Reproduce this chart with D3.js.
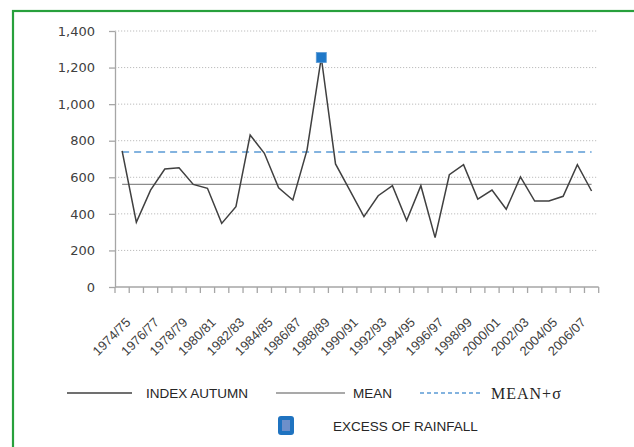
<!DOCTYPE html>
<html>
<head>
<meta charset="utf-8">
<script src="https://cdn.jsdelivr.net/npm/d3@7"></script>
<style>
  body { margin: 0; background: #fff; }
  svg { display: block; }
</style>
</head>
<body>
<div id="chart"></div>
<script>
/***********************************************/
//                 CHART DATA                  //
/***********************************************/

const seasons = ["1974/75","1975/76","1976/77","1977/78","1978/79","1979/80","1980/81","1981/82",
  "1982/83","1983/84","1984/85","1985/86","1986/87","1987/88","1988/89","1989/90","1990/91",
  "1991/92","1992/93","1993/94","1994/95","1995/96","1996/97","1997/98","1998/99","1999/00",
  "2000/01","2001/02","2002/03","2003/04","2004/05","2005/06","2006/07","2007/08"];

const indexAutumn = [744, 354, 530, 645, 652, 561, 540, 348, 439, 831, 731, 543, 476, 750,
  1255, 673, 530, 385, 499, 554, 363, 554, 270, 614, 669, 481, 530, 425, 602, 470, 470, 496, 669, 525];

const meanValue = 561;
const meanPlusSigma = 738;

// the single point flagged as excess of rainfall
const excessSeasons = ["1988/89"];
const excessValues = [1255];

const yTicks = [0, 200, 400, 600, 800, 1000, 1200, 1400];

const legendItems = ["INDEX AUTUMN", "MEAN", "MEAN+\u03c3", "EXCESS OF RAINFALL"];

/***********************************************/
//                   LAYOUT                    //
/***********************************************/

const width = 634,
    height = 447;

const plotLeft = 115, plotRight = 598.7, plotTop = 31, plotBottom = 287;

const svg = d3.select("#chart")
  .append("svg")
    .attr("width", width)
    .attr("height", height);

svg.append("rect")
    .attr("width", width)
    .attr("height", height)
    .attr("fill", "#fff");

// green frame, runs off the right and bottom edges
svg.append("rect")
    .attr("x", 13)
    .attr("y", 11)
    .attr("width", 700)
    .attr("height", 500)
    .attr("fill", "none")
    .attr("stroke", "#28a03c")
    .attr("stroke-width", 2.2);

const x = d3.scaleBand()
    .domain(seasons)
    .range([plotLeft, plotRight]);

const y = d3.scaleLinear()
    .domain([0, 1400])
    .range([plotBottom, plotTop]);

const cx = d => x(d) + x.bandwidth() / 2;

// gridlines
svg.append("g")
  .selectAll("line")
  .data(yTicks.filter(d => d > 0))
  .join("line")
    .attr("x1", plotLeft)
    .attr("x2", plotRight - 1)
    .attr("y1", d => y(d))
    .attr("y2", d => y(d))
    .attr("stroke", "#bdbdbd")
    .attr("stroke-width", 1)
    .attr("stroke-dasharray", "1.2,1.8");

// y axis
const yAxis = svg.append("g")
    .attr("transform", `translate(${plotLeft},0)`)
    .call(d3.axisLeft(y)
      .tickValues(yTicks)
      .tickFormat(d3.format(","))
      .tickSize(6)
      .tickSizeOuter(0)
      .tickPadding(14));

yAxis.select(".domain").attr("stroke", "#a6a6a6").attr("stroke-width", 1.3);
yAxis.selectAll(".tick line").attr("stroke", "#a6a6a6").attr("stroke-width", 1.3);
yAxis.selectAll(".tick text")
    .attr("fill", "#404040")
    .style("font-family", "DejaVu Sans, Verdana, sans-serif")
    .style("font-size", "13px");

// x axis: baseline plus ticks on the band edges
const xAxis = svg.append("g");

xAxis.append("line")
    .attr("x1", plotLeft)
    .attr("x2", plotRight)
    .attr("y1", plotBottom)
    .attr("y2", plotBottom)
    .attr("stroke", "#a6a6a6")
    .attr("stroke-width", 1.3);

xAxis.selectAll(".xtick")
  .data(seasons.concat(["end"]))
  .join("line")
    .attr("class", "xtick")
    .attr("x1", d => d === "end" ? plotRight : x(d))
    .attr("x2", d => d === "end" ? plotRight : x(d))
    .attr("y1", plotBottom)
    .attr("y2", plotBottom + 6)
    .attr("stroke", "#a6a6a6")
    .attr("stroke-width", 1.3);

xAxis.selectAll(".xlabel")
  .data(seasons.filter((d, i) => i % 2 === 0))
  .join("text")
    .attr("class", "xlabel")
    .attr("transform", d => `translate(${cx(d) + 6},${plotBottom + 33}) rotate(-45)`)
    .attr("text-anchor", "end")
    .attr("dy", "0.35em")
    .attr("fill", "#404040")
    .style("font-family", "Liberation Sans, Arial, sans-serif")
    .style("font-size", "13px")
    .text(d => d);

// flat lines for mean and mean + sigma
const first = cx(seasons[0]), last = cx(seasons[seasons.length - 1]);

svg.append("line")
    .attr("x1", first)
    .attr("x2", last)
    .attr("y1", y(meanValue))
    .attr("y2", y(meanValue))
    .attr("stroke", "#8c8c8c")
    .attr("stroke-width", 1.3);

svg.append("line")
    .attr("x1", first)
    .attr("x2", last)
    .attr("y1", y(meanPlusSigma))
    .attr("y2", y(meanPlusSigma))
    .attr("stroke", "#5b9bd5")
    .attr("stroke-width", 1.6)
    .attr("stroke-dasharray", "7,5");

// index line
const line = d3.line()
    .x((d, i) => cx(seasons[i]))
    .y(d => y(d));

svg.append("path")
    .datum(indexAutumn)
    .attr("d", line)
    .attr("fill", "none")
    .attr("stroke", "#404040")
    .attr("stroke-width", 1.5);

// excess marker
svg.append("g")
  .selectAll("rect")
  .data(excessValues)
  .join("rect")
    .attr("x", (d, i) => cx(excessSeasons[i]) - 5)
    .attr("y", d => y(d) - 5)
    .attr("width", 10)
    .attr("height", 10)
    .attr("fill", "#1f78c8")
    .attr("stroke", "#5b9bd5")
    .attr("stroke-width", 0.8);

/***********************************************/
//                   LEGEND                    //
/***********************************************/

const legend = svg.append("g")
    .style("font-family", "Liberation Sans, Arial, sans-serif")
    .style("font-size", "13.5px")
    .attr("fill", "#262626");

legend.append("line")
    .attr("x1", 67).attr("x2", 132).attr("y1", 393).attr("y2", 393)
    .attr("stroke", "#404040").attr("stroke-width", 1.5);
legend.append("text")
    .attr("x", 146).attr("y", 393).attr("dy", "0.35em")
    .text(legendItems[0]);

legend.append("line")
    .attr("x1", 276).attr("x2", 345).attr("y1", 393).attr("y2", 393)
    .attr("stroke", "#8c8c8c").attr("stroke-width", 1.3);
legend.append("text")
    .attr("x", 353).attr("y", 393).attr("dy", "0.35em")
    .text(legendItems[1]);

legend.append("line")
    .attr("x1", 420).attr("x2", 480).attr("y1", 393).attr("y2", 393)
    .attr("stroke", "#5b9bd5").attr("stroke-width", 1.3)
    .attr("stroke-dasharray", "4,3");
legend.append("text")
    .attr("x", 491).attr("y", 393).attr("dy", "0.35em")
    .style("font-family", "Liberation Serif, Times New Roman, serif")
    .style("font-size", "16px")
    .style("letter-spacing", "1px")
    .text(legendItems[2]);

legend.append("rect")
    .attr("x", 278).attr("y", 416)
    .attr("width", 16).attr("height", 19)
    .attr("rx", 3)
    .attr("fill", "#1f73c0");
legend.append("rect")
    .attr("x", 282).attr("y", 420)
    .attr("width", 8).attr("height", 11)
    .attr("fill", "#6d8fca");
legend.append("text")
    .attr("x", 333).attr("y", 426).attr("dy", "0.35em")
    .text(legendItems[3]);
</script>
</body>
</html>
